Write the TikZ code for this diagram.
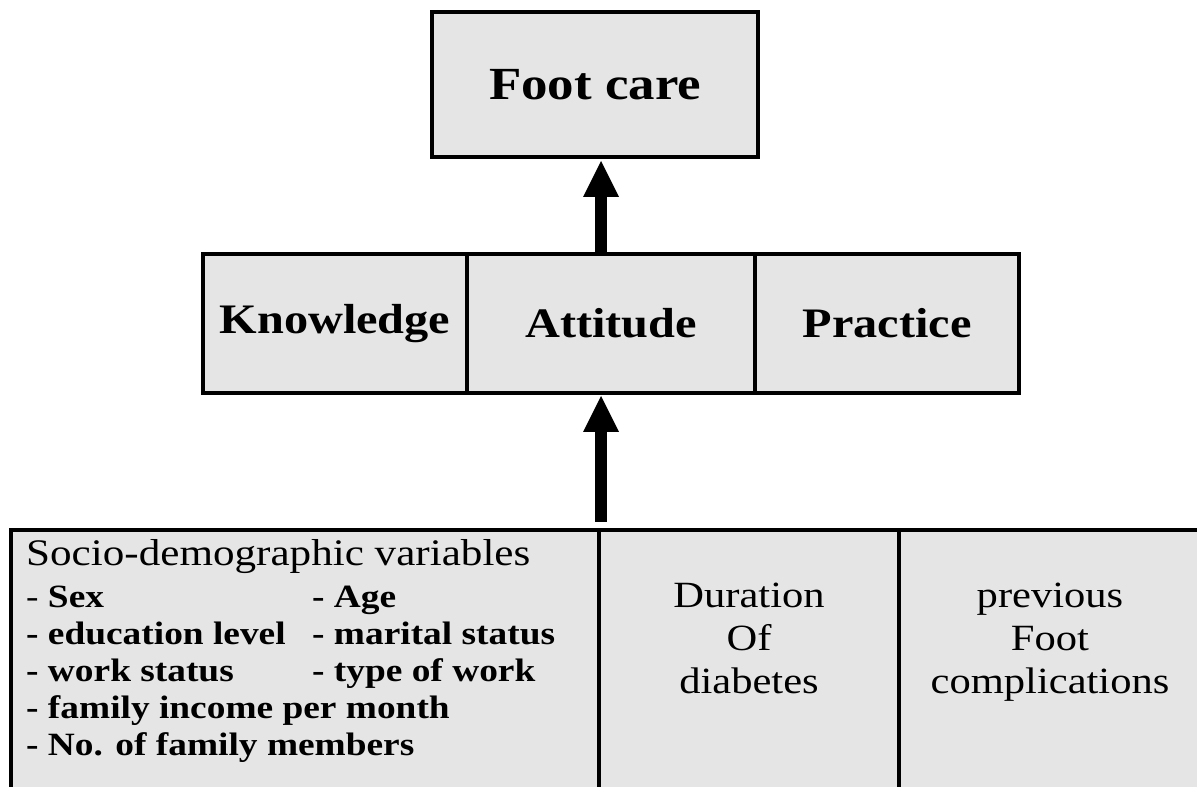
\documentclass[tikz,border=0pt]{standalone}
\usepackage{fontspec}
\setmainfont{Liberation Serif}
\newfontfamily\wideserif[FakeStretch=1.15]{Liberation Serif}
\usepackage{array}
\usetikzlibrary{arrows.meta, positioning}

\begin{document}
\begin{tikzpicture}[
  x=1pt, y=1pt,
  node distance=0pt,
  box/.style={draw, line width=4pt, fill=gray!20, inner sep=0pt, outer sep=0pt},
  upper/.style={box, minimum width=264pt, minimum height=139pt,
    font=\wideserif\bfseries\fontsize{42}{48}\selectfont},
  lower/.style={box, minimum height=300pt},
  note/.style={inner sep=0pt, anchor=north, align=center,
    font=\wideserif\fontsize{37}{43}\selectfont},
  bigarrow/.style={line width=12pt, -{Triangle[length=36pt, width=36pt, line width=0pt]}}
]
\useasboundingbox (0,0) rectangle (1197,787);
\clip (0,0) rectangle (1197,787);

\node[box, minimum width=326pt, minimum height=145pt,
  font=\wideserif\bfseries\fontsize{46}{52}\selectfont] (footcare) at (595,702.5) {Foot care};

\node[upper, minimum width=288pt] (attitude) at (611,463.5) {Attitude};
\node[upper, left=of attitude] (knowledge) {Knowledge};
\node[upper, right=of attitude] (practice) {Practice};

\node[lower, minimum width=588pt] (socio) at (305,107) {};
\node[lower, minimum width=300pt, right=of socio] (duration) {};
\node[lower, minimum width=302pt, right=of duration] (previous) {};

% texts of the lower row
\node[inner sep=0pt, anchor=base west, font=\wideserif\fontsize{37.5}{43}\selectfont]
  (socio-title) at ([xshift=15pt, yshift=-36pt]socio.north west) {Socio-demographic variables};
\node[inner sep=0pt, anchor=base west, font=\wideserif\bfseries\fontsize{32.5}{37}\selectfont]
  (socio-list) at ([yshift=-42pt]socio-title.base west) {%
  \begin{tabular}[t]{@{}p{286pt}@{}l@{}}
  \textmd{-} Sex & - Age\\
  - education level & - marital status\\
  - work status & - type of work\\
  \multicolumn{2}{@{}l@{}}{- family income per month}\\
  \multicolumn{2}{@{}l@{}}{- No. of family members}
  \end{tabular}};
\node[note] (duration-text) at ([yshift=-53pt]duration.north) {Duration\\Of\\diabetes};
\node[note] (previous-text) at ([yshift=-53pt]previous.north) {previous\\Foot\\complications};

\coordinate (up1) at ([xshift=-10pt]attitude.north);
\coordinate (up2) at ([xshift=-10pt]attitude.south);
\draw[bigarrow, shorten >=4pt] (up1) -- (up1 |- footcare.south);
\draw[bigarrow, shorten <=8pt, shorten >=3pt] (up2 |- socio.north) -- (up2);
\end{tikzpicture}
\end{document}
